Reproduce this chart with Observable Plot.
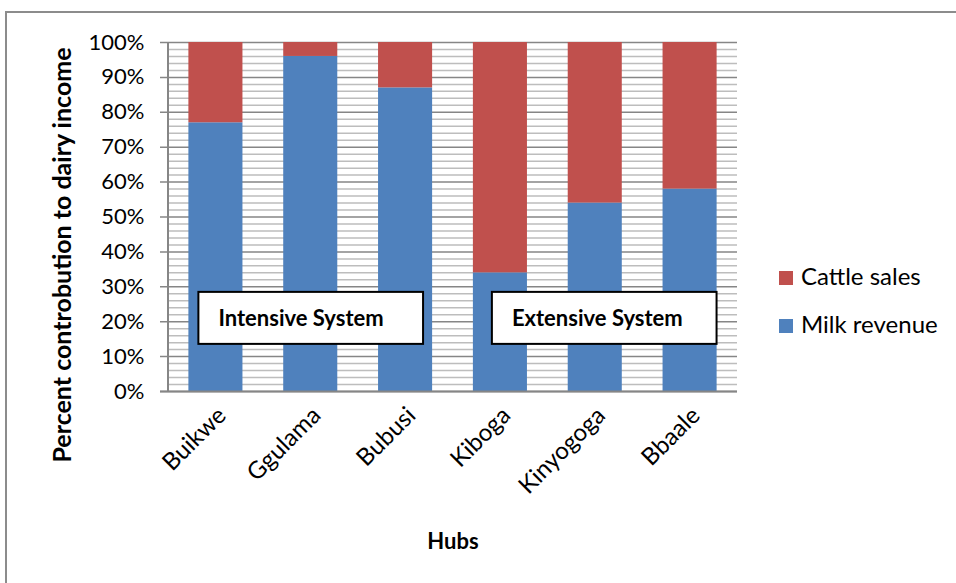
<!DOCTYPE html>
<html><head><meta charset="utf-8">
<script src="https://cdn.jsdelivr.net/npm/d3@7"></script>
<script src="https://cdn.jsdelivr.net/npm/@observablehq/plot@0.6"></script>
<style>
body{margin:0;background:#fff;font-family:Lato, sans-serif}
#wrap{position:relative;width:956px;height:583px;overflow:hidden;background:#fff}
#border{position:absolute;left:5px;top:11px;width:1000px;height:700px;border:2px solid #8c8c8c;box-sizing:border-box}
#chart{position:absolute;left:0;top:0}
#legend{position:absolute;left:779px;top:252px;font-size:24px;line-height:48px;color:#000}
#legend .sw{display:inline-block;width:14px;height:14px;margin-right:8px;vertical-align:0px}
</style></head><body>
<div id="wrap"><div id="border"></div><div id="chart"></div><div id="legend"></div></div>
<script>
const hubs = ["Buikwe", "Ggulama", "Bubusi", "Kiboga", "Kinyogoga", "Bbaale"];
const milkRevenue = [77, 96, 87, 34, 54, 58];
const cattleSales = [23, 4, 13, 66, 46, 42];
const seriesNames = ["Milk revenue", "Cattle sales"];
const seriesColors = ["#4F81BD", "#C0504D"];
const yTicks = [0, 10, 20, 30, 40, 50, 60, 70, 80, 90, 100];
const systemLabels = ["Intensive System", "Extensive System"];
const systemFirstHub = ["Buikwe", "Kiboga"];
const systemLastHub = ["Bubusi", "Bbaale"];
const xTitle = "Hubs";
const yTitle = "Percent controbution to dairy income";

const rows = [];
hubs.forEach((h, i) => {
  rows.push({hub: h, series: seriesNames[0], value: milkRevenue[i]});
  rows.push({hub: h, series: seriesNames[1], value: cattleSales[i]});
});
const minorTicks = d3.range(0, 101, 2).filter(d => d % 10 !== 0);

function decorations(index, scales, values, dimensions) {
  const {x, y} = scales;
  const g = d3.create("svg:g");
  g.append("line")
    .attr("x1", dimensions.marginLeft).attr("x2", dimensions.marginLeft)
    .attr("y1", y(100)).attr("y2", y(0))
    .attr("stroke", "#868686").attr("stroke-width", 2);
  systemLabels.forEach((label, i) => {
    const x1 = x(systemFirstHub[i]) + (i === 0 ? 10 : 19);
    const x2 = x(systemLastHub[i]) + (i === 0 ? 45 : 54);
    const y1 = y(28.4), y2 = y(13.5);
    g.append("rect").attr("x", x1).attr("y", y1).attr("width", x2 - x1).attr("height", y2 - y1)
      .attr("fill", "#fff").attr("stroke", "#000").attr("stroke-width", 2);
    g.append("text").attr("x", x1 + 20).attr("y", (y1 + y2) / 2).attr("dy", "0.35em")
      .attr("text-anchor", "start")
      .attr("font-weight", "bold").attr("font-size", 22).attr("fill", "#000").text(label);
  });
  return g.node();
}

const chart = Plot.plot({
  width: 956,
  height: 583,
  marginLeft: 168,
  marginRight: 219,
  marginTop: 42,
  marginBottom: 192,
  style: {fontFamily: "Lato, sans-serif", fontSize: "22px", background: "transparent", color: "#000"},
  x: {domain: hubs, paddingInner: 0.43, paddingOuter: 0.215, round: false},
  y: {domain: [0, 100]},
  color: {domain: seriesNames, range: seriesColors},
  marks: [
    Plot.ruleY(minorTicks, {stroke: "#bdbdbd", strokeWidth: 1.5}),
    Plot.ruleY(yTicks, {stroke: "#868686", strokeWidth: 1.5, insetLeft: -8}),
    Plot.barY(rows, {x: "hub", y: "value", fill: "series"}),
    Plot.ruleY([0], {stroke: "#868686", strokeWidth: 2, insetLeft: -8}),
    Plot.axisY({ticks: yTicks, tickFormat: d => d + "%", tickSize: 0, tickPadding: 24, fontSize: 22, label: null}),
    Plot.axisX({tickRotate: -45, tickSize: 0, tickPadding: 20, dx: 6, fontSize: 24, label: null}),
    Plot.text([xTitle], {frameAnchor: "bottom", dy: 157, fontWeight: "bold", fontSize: 22}),
    Plot.text([yTitle], {frameAnchor: "left", dx: -106, dy: 38, rotate: -90, textAnchor: "middle", fontWeight: "bold", fontSize: 25}),
    decorations
  ]
});
document.getElementById("chart").append(chart);

const legend = document.getElementById("legend");
[1, 0].forEach(i => {
  const d = document.createElement("div");
  d.innerHTML = `<span class="sw" style="background:${seriesColors[i]}"></span>${seriesNames[i]}`;
  legend.append(d);
});
</script>
</body></html>
